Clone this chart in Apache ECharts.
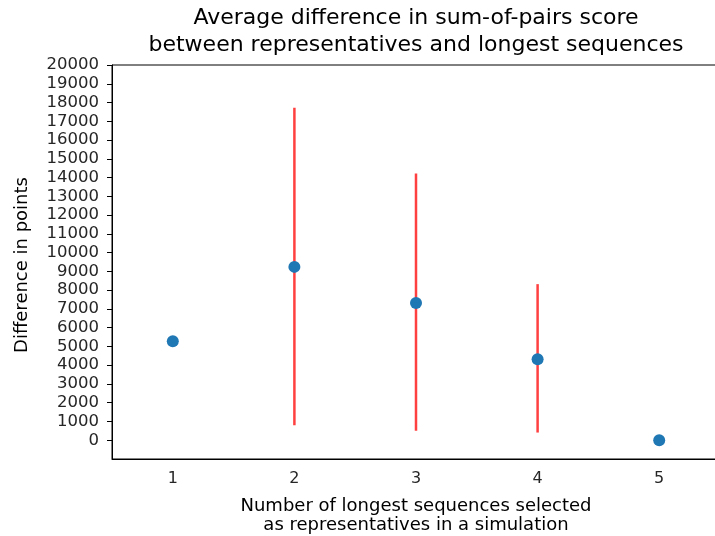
<!DOCTYPE html>
<html>
<head>
<meta charset="utf-8">
<script src="https://cdn.jsdelivr.net/npm/echarts@6/dist/echarts.min.js"></script>
<style>
  html, body { margin: 0; padding: 0; background: #fff; overflow: hidden; }
  #chart { width: 721px; height: 536px; }
</style>
</head>
<body>
<div id="chart"></div>
<script>
// data
var categories = ['1', '2', '3', '4', '5'];
var means = [5280, 9240, 7320, 4320, 0];
var errLow = [null, 800, 500, 410, null];
var errHigh = [null, 17720, 14220, 8320, null];
var yTicks = [];
for (var t = 0; t <= 20000; t += 1000) yTicks.push(t);

var font = 'DejaVu Sans';
var chart = echarts.init(document.getElementById('chart'));

var errData = [];
for (var i = 0; i < categories.length; i++) {
    if (errLow[i] !== null) errData.push([i, errLow[i], errHigh[i]]);
}

function label(text, x, y, size, rot) {
    return {
        type: 'text',
        x: x, y: y,
        rotation: rot || 0,
        style: {
            text: text,
            align: 'center', verticalAlign: 'middle',
            font: size + 'px "DejaVu Sans"', fill: '#000'
        }
    };
}

var option = {
    animation: false,
    grid: {
        left: 112,
        top: 65,
        right: 1,
        bottom: 77,
        show: true,
        borderColor: '#000',
        borderWidth: 1,
        backgroundColor: 'transparent'
    },
    xAxis: {
        type: 'category',
        data: categories,
        boundaryGap: true,
        axisLine: { onZero: false, lineStyle: { color: '#000', width: 1 } },
        axisTick: { alignWithLabel: true, length: 5, lineStyle: { color: '#000' } },
        axisLabel: { color: '#262626', fontFamily: font, fontSize: 16, margin: 12 },
        splitLine: { show: false }
    },
    yAxis: {
        type: 'value',
        min: -1000,
        max: 20000,
        interval: 1000,
        axisLine: { show: true, lineStyle: { color: '#000', width: 1 } },
        axisTick: { show: true, length: 5, customValues: yTicks, lineStyle: { color: '#000' } },
        axisLabel: {
            color: '#262626', fontFamily: font, fontSize: 16.5, margin: 13,
            customValues: yTicks,
            formatter: function (v) { return String(v); }
        },
        splitLine: { show: false }
    },
    series: [
        {
            type: 'custom',
            data: errData,
            z: 2,
            renderItem: function (params, api) {
                var p1 = api.coord([api.value(0), api.value(1)]);
                var p2 = api.coord([api.value(0), api.value(2)]);
                return {
                    type: 'line',
                    shape: { x1: p1[0], y1: p1[1], x2: p2[0], y2: p2[1] },
                    style: { stroke: '#ff4040', lineWidth: 2.5 }
                };
            }
        },
        {
            type: 'scatter',
            data: means,
            symbolSize: 12,
            z: 3,
            itemStyle: { color: '#1f77b4', opacity: 1 }
        }
    ],
    graphic: [
        label('Average difference in sum-of-pairs score', 416, 18, 22),
        label('between representatives and longest sequences', 416, 45, 22),
        label('Number of longest sequences selected', 416, 506, 18),
        label('as representatives in a simulation', 416, 525, 18),
        label('Difference in points', 22, 265, 18, Math.PI / 2)
    ]
};
chart.setOption(option);
</script>
</body>
</html>
